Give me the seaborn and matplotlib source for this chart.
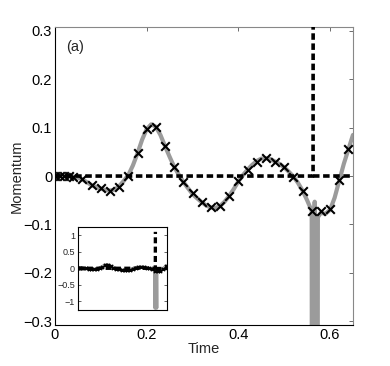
import numpy as np
import pandas as pd
import matplotlib
matplotlib.use("Agg")
import matplotlib.pyplot as plt
import seaborn as sns

# ---- data ----
curve_t = [0.00, 0.01, 0.02, 0.03, 0.04, 0.05, 0.06, 0.07, 0.08, 0.09, 0.10, 0.11,
           0.12, 0.13, 0.14, 0.15, 0.16, 0.17, 0.18, 0.19, 0.20, 0.21, 0.22, 0.23,
           0.24, 0.25, 0.26, 0.27, 0.28, 0.29, 0.30, 0.31, 0.32, 0.33, 0.34, 0.35,
           0.36, 0.37, 0.38, 0.39, 0.40, 0.41, 0.42, 0.43, 0.44, 0.45, 0.46, 0.47,
           0.48, 0.49, 0.50, 0.51, 0.52, 0.53, 0.54, 0.55, 0.56, 0.5600, 0.5608,
           0.5630, 0.5665, 0.5700, 0.5723, 0.5735, 0.58, 0.59, 0.60, 0.61, 0.62,
           0.63, 0.64, 0.65]
curve_p = [0.000, 0.000, 0.000, 0.000, -0.001, -0.003, -0.007, -0.013, -0.019, -0.023,
           -0.026, -0.029, -0.030, -0.028, -0.021, -0.010, 0.002, 0.022, 0.047, 0.075,
           0.097, 0.107, 0.102, 0.085, 0.062, 0.040, 0.019, 0.003, -0.012, -0.025,
           -0.037, -0.046, -0.054, -0.061, -0.065, -0.066, -0.062, -0.053, -0.041,
           -0.027, -0.011, 0.002, 0.013, 0.023, 0.031, 0.036, 0.037, 0.035, 0.030,
           0.025, 0.018, 0.009, -0.001, -0.014, -0.030, -0.050, -0.072, -0.080,
           -1.20, -0.20, -0.053, -0.20, -1.20, -0.085, -0.076, -0.078, -0.070,
           -0.045, -0.010, 0.025, 0.055, 0.085]

cross_t = [0.00, 0.01, 0.02, 0.03, 0.04, 0.06, 0.08, 0.10, 0.12, 0.14, 0.16, 0.18,
           0.20, 0.22, 0.24, 0.26, 0.28, 0.30, 0.32, 0.34, 0.36, 0.38, 0.40, 0.42,
           0.44, 0.46, 0.48, 0.50, 0.52, 0.54, 0.56, 0.58, 0.60, 0.62, 0.64]
cross_p = [0.000, 0.000, 0.000, 0.000, -0.001, -0.006, -0.019, -0.025, -0.030, -0.023,
           0.000, 0.047, 0.098, 0.101, 0.062, 0.019, -0.012, -0.036, -0.053, -0.065,
           -0.062, -0.041, -0.011, 0.012, 0.030, 0.037, 0.030, 0.019, -0.001, -0.030,
           -0.073, -0.073, -0.069, -0.008, 0.055]

# exact solution: flat, then blows up at t ~ 0.5635 (two pieces)
dash_seg = [0, 0, 0, 1, 1]
dash_t = [0.000, 0.5630, 0.5636, 0.5636, 0.650]
dash_p = [0.0, 0.0, 1.10, 0.0, 0.0]

main_xticks = [0, 0.2, 0.4, 0.6]
main_xticklabels = ["0", "0.2", "0.4", "0.6"]
main_yticks = [-0.3, -0.2, -0.1, 0, 0.1, 0.2, 0.3]
main_yticklabels = ["\u22120.3", "\u22120.2", "\u22120.1", "0", "0.1", "0.2", "0.3"]
inset_yticks = [-1, -0.5, 0, 0.5, 1]
inset_yticklabels = ["\u22121", "\u22120.5", "0", "0.5", "1"]

sns.set_theme(style="white")
plt.rcParams["font.family"] = ["Liberation Sans", "DejaVu Sans"]

curve_df = pd.DataFrame({"t": curve_t, "p": curve_p})
cross_df = pd.DataFrame({"t": cross_t, "p": cross_p})
dash_df = pd.DataFrame({"t": dash_t, "p": dash_p, "seg": dash_seg})

GRAY = "#9b9b9b"

fig = plt.figure(figsize=(3.90, 3.66), dpi=100)
ax = fig.add_axes([0.141, 0.112, 0.764, 0.814])


def draw(a, lw_curve, lw_dash, msize, mlw):
    sns.lineplot(data=curve_df, x="t", y="p", ax=a, color=GRAY, lw=lw_curve,
                 estimator=None, sort=False, zorder=2)
    sns.lineplot(data=dash_df, x="t", y="p", units="seg", ax=a, color="black",
                 lw=lw_dash, estimator=None, sort=False, zorder=3,
                 linestyle=(0, (1.8, 1.0)))
    sns.scatterplot(data=cross_df, x="t", y="p", ax=a, marker="x", color="black",
                    s=msize, linewidth=mlw, zorder=4)


draw(ax, 3.0, 2.6, 38, 1.5)
ax.set_xlim(0, 0.65)
ax.set_ylim(-0.308, 0.308)
ax.set_xticks(main_xticks)
ax.set_xticklabels(main_xticklabels)
ax.set_yticks(main_yticks)
ax.set_yticklabels(main_yticklabels)
ax.tick_params(direction="in", length=3, width=0.6, labelsize=10.5, pad=2,
               top=True, right=True, colors="black", color="#555555")
ax.set_xlabel("Time", fontsize=10.5, labelpad=0)
ax.set_ylabel("Momentum", fontsize=10.5, labelpad=0)
for side in ["left", "bottom"]:
    ax.spines[side].set_color("black")
    ax.spines[side].set_linewidth(0.8)
for side in ["top", "right"]:
    ax.spines[side].set_color("#888888")
    ax.spines[side].set_linewidth(0.8)
ax.text(0.025, 0.267, "(a)", fontsize=10.5, va="center", ha="left")

ins = fig.add_axes([0.199, 0.153, 0.230, 0.228])
draw(ins, 2.5, 2.4, 6, 1.0)
ins.set_xlim(0, 0.65)
ins.set_ylim(-1.26, 1.26)
ins.set_xticks([])
ins.set_yticks(inset_yticks)
ins.set_yticklabels(inset_yticklabels)
ins.tick_params(axis="y", direction="in", length=2, width=0.5, labelsize=6.5,
                pad=2, left=True, right=True)
ins.set_xlabel("")
ins.set_ylabel("")
for side in ins.spines:
    ins.spines[side].set_color("black")
    ins.spines[side].set_linewidth(0.8)
ins.set_facecolor("white")

fig.savefig("out.png", dpi=100)
